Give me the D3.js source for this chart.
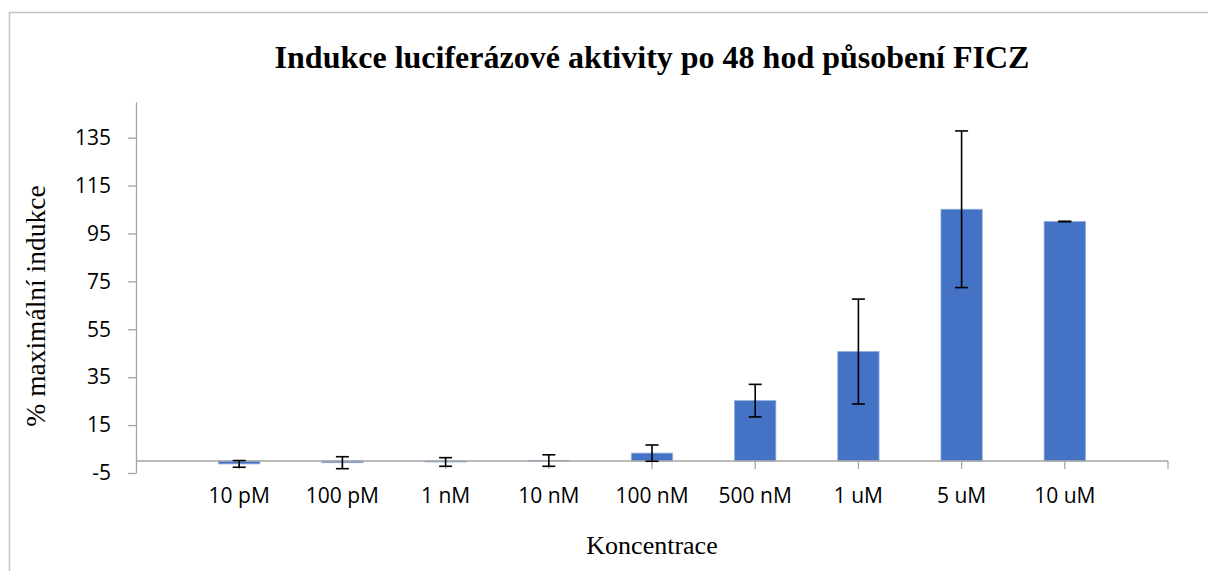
<!DOCTYPE html>
<html>
<head>
<meta charset="utf-8">
<script src="https://cdn.jsdelivr.net/npm/d3@7"></script>
<style>
  html, body { margin: 0; padding: 0; background: #fff; }
  svg { display: block; }
</style>
</head>
<body>
<svg id="chart" width="1208" height="571"></svg>
<script>
const categories = ["10 pM", "100 pM", "1 nM", "10 nM", "100 nM", "500 nM", "1 uM", "5 uM", "10 uM"];
const values = [-1.2, -0.7, -0.4, 0.2, 3.3, 25.2, 45.7, 105.1, 100];
const errors = [1.4, 2.5, 1.8, 2.4, 3.4, 6.8, 21.9, 32.7, 0];
const yTicks = [-5, 15, 35, 55, 75, 95, 115, 135];
const titleText = "Indukce luciferázové aktivity po 48 hod působení FICZ";
const xTitle = "Koncentrace";
const yTitle = "% maximální indukce";

const svg = d3.select("#chart");
const W = 1208, H = 571;
const plot = { left: 136, right: 1168, top: 101.7, bottom: 473 };
const step = (plot.right - plot.left) / (categories.length + 1);

const x = d3.scaleBand()
  .domain(categories)
  .range([plot.left + step / 2, plot.right - step / 2])
  .paddingInner(0.6)
  .paddingOuter(0.3);

const y = d3.scaleLinear().domain([-5, 150]).range([plot.bottom, plot.top]);

const serif = "'Liberation Serif', 'Times New Roman', serif";
const sans = "'Open Sans', 'Liberation Sans', sans-serif";
const axisColor = "#a6a6a6";

// chart border
svg.append("rect")
  .attr("x", 9.5).attr("y", 12.5)
  .attr("width", W + 20).attr("height", H + 20)
  .attr("fill", "none").attr("stroke", "#c3c3c3").attr("stroke-width", 1.5);

// title
svg.append("text")
  .attr("x", (plot.left + plot.right) / 2).attr("y", 67.5)
  .attr("text-anchor", "middle")
  .attr("font-family", serif).attr("font-weight", "bold").attr("font-size", 32)
  .attr("fill", "#000")
  .text(titleText);

// y axis
const yAxis = d3.axisLeft(y).tickValues(yTicks).tickSize(8).tickPadding(17).tickSizeOuter(0)
  .tickFormat(d => String(d));
const gy = svg.append("g").attr("transform", `translate(${plot.left},0)`).call(yAxis);
gy.select(".domain").attr("stroke", axisColor).attr("stroke-width", 1.3);
gy.selectAll(".tick line").attr("stroke", axisColor).attr("stroke-width", 1.3);
gy.selectAll(".tick text").attr("font-family", sans).attr("font-size", 21).attr("fill", "#000");

// bars
svg.append("g").selectAll("rect").data(categories).join("rect")
  .attr("x", d => x(d))
  .attr("width", x.bandwidth())
  .attr("y", (d, i) => y(Math.max(0, values[i])))
  .attr("height", (d, i) => Math.abs(y(values[i]) - y(0)))
  .attr("fill", "#4472c4")
  .attr("stroke", "#8eaadb")
  .attr("stroke-width", 0.8);

// x axis (at 0)
const gx = svg.append("g").attr("transform", `translate(0,${y(0)})`);
gx.append("line")
  .attr("x1", plot.left).attr("x2", plot.right)
  .attr("stroke", axisColor).attr("stroke-width", 1.3);
const tickXs = categories.map(c => x(c) + x.bandwidth() / 2).concat([plot.right]);
gx.selectAll("line.tk").data(tickXs).join("line").attr("class", "tk")
  .attr("x1", d => d).attr("x2", d => d).attr("y1", 0).attr("y2", 8)
  .attr("stroke", axisColor).attr("stroke-width", 1.3);

// x labels
svg.append("g").selectAll("text").data(categories).join("text")
  .attr("x", d => x(d) + x.bandwidth() / 2)
  .attr("y", 503)
  .attr("text-anchor", "middle")
  .attr("font-family", sans).attr("font-size", 21).attr("fill", "#000")
  .text(d => d);

// error bars
const cap = 6.5;
const eg = svg.append("g").attr("stroke", "#000").attr("stroke-width", 1.6);
categories.forEach((c, i) => {
  const cx = x(c) + x.bandwidth() / 2;
  const hi = y(values[i] + errors[i]), lo = y(values[i] - errors[i]);
  eg.append("line").attr("x1", cx).attr("x2", cx).attr("y1", hi).attr("y2", lo);
  eg.append("line").attr("x1", cx - cap).attr("x2", cx + cap).attr("y1", hi).attr("y2", hi);
  eg.append("line").attr("x1", cx - cap).attr("x2", cx + cap).attr("y1", lo).attr("y2", lo);
});

// axis titles
svg.append("text")
  .attr("x", (plot.left + plot.right) / 2).attr("y", 554)
  .attr("text-anchor", "middle")
  .attr("font-family", serif).attr("font-size", 26).attr("fill", "#000")
  .text(xTitle);

svg.append("text")
  .attr("transform", `translate(45,306) rotate(-90)`)
  .attr("text-anchor", "middle")
  .attr("font-family", serif).attr("font-size", 27.5).attr("fill", "#000")
  .text(yTitle);
</script>
</body>
</html>
